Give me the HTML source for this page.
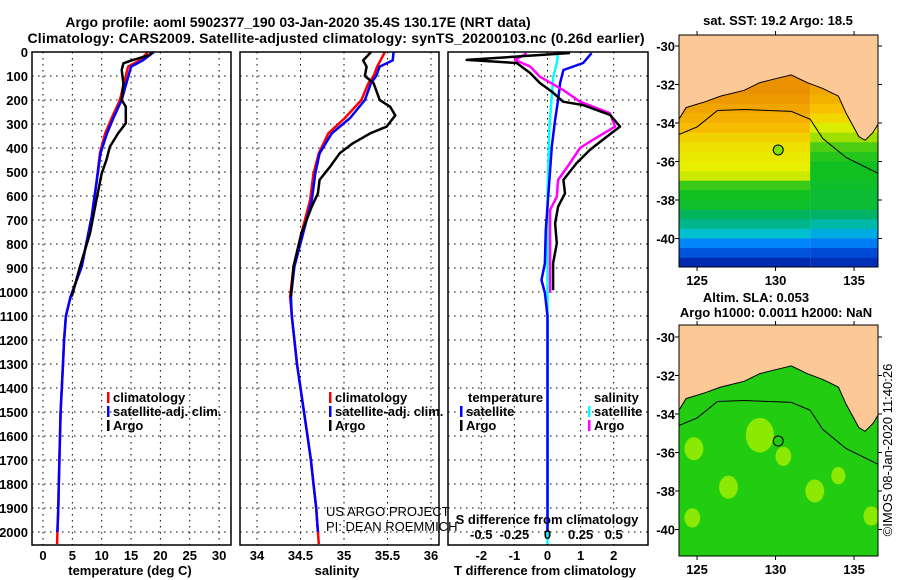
<!DOCTYPE html>
<html><head><meta charset="utf-8"><style>
html,body{margin:0;padding:0;background:#fff;}
svg{display:block;font-family:"Liberation Sans",sans-serif;}
.b{font-weight:bold;font-size:13px;fill:#000;}
.t{font-weight:bold;font-size:14px;fill:#000;}
</style></head><body>
<svg id="fig" width="900" height="580" viewBox="0 0 900 580" xmlns="http://www.w3.org/2000/svg">
<text class="t" x="298" y="27" text-anchor="middle">Argo profile: aoml 5902377_190 03-Jan-2020 35.4S 130.17E (NRT data)</text>
<text class="t" x="336" y="43" text-anchor="middle" textLength="617">Climatology: CARS2009. Satellite-adjusted climatology: synTS_20200103.nc (0.26d earlier)</text>
<g id="p1"></g>
<g id="p2"></g>
<g id="p3"></g>
<g id="m1"></g>
<g id="m2"></g>
<text class="b" x="778" y="25" text-anchor="middle">sat. SST: 19.2 Argo: 18.5</text>
<text class="b" x="756" y="302" text-anchor="middle">Altim. SLA: 0.053</text>
<text class="b" x="776" y="317" text-anchor="middle">Argo h1000: 0.0011 h2000: NaN</text>
<text x="892" y="450" font-size="13" text-anchor="middle" transform="rotate(-90 892 450)">©IMOS 08-Jan-2020 11:40:26</text>
<text x="326" y="516" font-size="13">US ARGO PROJECT</text>
<text x="326" y="531" font-size="13">PI: DEAN ROEMMICH</text>
</svg>
<script>
// ---- data ----
const depthTicks=[0,100,200,300,400,500,600,700,800,900,1000,1100,1200,1300,1400,1500,1600,1700,1800,1900,2000];
const tempTicks=[0,5,10,15,20,25,30];
const salTicks=[34,34.5,35,35.5,36];
const salTickLabels=["34","34.5","35","35.5","36"];
const dTTicks=[-2,-1,0,1,2];
const dSTicks=[-0.5,-0.25,0,0.25,0.5];
const dSTickLabels=["-0.5","-0.25","0","0.25","0.5"];

const tempArgoDepths=[0,12,35,47,75,130,200,228,297,339,394,450,506,617,756,894,1019];
const tempArgo=[18.5,18.2,15.1,13.7,13.4,13.7,13.4,14.1,14.1,12.8,11.4,10.8,10.0,9.1,8.0,6.3,4.9];
const climDepths=[0,35,61,130,200,275,339,422,547,686,894,1019,1100,1200,1300,1400,1500,1600,1700,1800,1900,2000,2050];
const tempClim=[17.9,16.5,14.5,13.8,13.1,11.7,10.6,9.7,9.1,8.3,6.6,4.7,3.9,3.6,3.4,3.2,3.0,2.9,2.8,2.7,2.6,2.45,2.4];
const satDepths=[0,35,61,130,200,275,339,422,547,686,894,1019,1100,1200,1300,1400,1500,1600,1700,1800,1900,2000];
const tempSat=[18.9,17.0,15.0,14.2,13.4,12.0,10.9,9.8,9.1,8.3,6.6,4.7,3.9,3.6,3.4,3.2,3.0,2.9,2.8,2.7,2.6,2.45];

const salArgoDepths=[0,20,35,61,100,130,200,228,264,311,339,381,422,478,533,589,644,756,894,1019];
const salArgo=[35.31,35.26,35.22,35.26,35.24,35.34,35.41,35.53,35.59,35.49,35.30,35.10,34.95,34.84,34.72,34.70,34.63,34.51,34.42,34.39];
const salClimDepths=[0,35,61,100,130,200,275,339,422,506,617,756,894,1019,1100,1200,1300,1400,1500,1600,1700,1800,1900,2000,2050];
const salClim=[35.47,35.42,35.38,35.34,35.28,35.20,35.01,34.82,34.71,34.65,34.61,34.51,34.42,34.38,34.40,34.43,34.46,34.50,34.54,34.58,34.62,34.65,34.68,34.70,34.71];
const salSatDepths=[0,35,61,100,130,200,275,339,422,506,617,756,894,1019,1100,1200,1300,1400,1500,1600,1700,1800,1900,2000];
const salSat=[35.57,35.56,35.41,35.37,35.31,35.24,35.07,34.86,34.72,34.67,34.63,34.53,34.43,34.39,34.40,34.43,34.46,34.50,34.54,34.58,34.62,34.65,34.68,34.70];

const dTArgoDepths=[4,33,46,87,129,165,207,221,262,311,353,408,463,533,589,644,714,797,880,992];
const dTArgo=[0.68,-2.44,-0.93,-0.53,-0.23,0.13,0.47,1.07,1.89,2.19,1.79,1.28,0.88,0.48,0.53,0.32,0.23,0.28,0.17,0.17];
const dSArgoDepths=[6,33,61,103,158,207,255,311,367,400,463,533,603,658,742,880,1004];
const dSArgo=[-0.157,-0.245,-0.13,-0.057,0.117,0.245,0.47,0.51,0.34,0.245,0.17,0.08,0.07,0.02,0.02,0.02,0.02];
const dTSatDepths=[5,46,75,129,200,283,394,603,742,880,950,1004,1100,1500,2000];
const dTSat=[1.33,1.08,0.48,0.38,0.32,0.23,0.13,0.02,-0.05,-0.08,-0.18,-0.08,0,0,0];
const dSSatDepths=[5,46,103,200,311,603,1000,2050];
const dSSat=[0.08,0.07,0.044,0.03,0.014,0,0,0];

// map data
const mapLonTicks=[125,130,135];
const mapLatTicks=[-30,-32,-34,-36,-38,-40];
const sstRowLats=[-31.5,-32,-32.5,-33,-33.5,-34,-34.5,-35,-35.5,-36,-36.5,-37,-37.5,-38,-38.5,-39,-39.5,-40,-40.5,-41];
const sstRowWest=[20.6,20.6,20.5,20.3,20.1,19.9,19.6,19.4,19.3,19.2,19.0,18.2,18.0,17.9,17.4,17.0,16.5,15.7,15.2,14.6];
const sstRowEast=[20.4,20.3,20.1,19.8,19.5,19.1,18.7,18.3,18.1,18.0,18.0,17.9,17.8,17.8,17.3,16.8,16.2,15.6,15.1,14.7];
const coastLon=[123.85,124.3,125.5,126.5,128,129,130,131,132,133,134,134.5,135.3,135.7,136.2,136.5];
const coastLat=[-33.8,-33.2,-32.9,-32.6,-32.3,-31.9,-31.7,-31.5,-31.9,-32.2,-32.6,-33.5,-34.7,-34.9,-34.5,-34.1];
const isoLon=[123.85,125,126.3,128,131,132.2,133,134.5,136.5];
const isoLat=[-34.6,-34.2,-33.35,-33.3,-33.4,-33.8,-34.8,-35.8,-36.6];
const argoLon=130.17, argoLat=-35.4;
const slaPatchLon=[129.0,124.8,127.0,134.0,132.5,124.7,136.1,130.5];
const slaPatchLat=[-35.1,-35.8,-37.8,-37.2,-38.0,-39.4,-39.3,-36.2];
const slaPatchR=[0.9,0.6,0.6,0.45,0.6,0.5,0.5,0.5];

// ---- helpers ----
const NS="http://www.w3.org/2000/svg";
function mk(parent,tag,attrs){const e=document.createElementNS(NS,tag);for(const k in attrs)e.setAttribute(k,attrs[k]);parent.appendChild(e);return e;}
const top0=52,bot0=545;
const yD=d=>top0+d*0.24;
function frame(g,x0,x1,y0,y1){
  const r=mk(g,'rect',{x:x0,y:y0,width:x1-x0,height:y1-y0,fill:'none',stroke:'#000','stroke-width':1.5});
  
  
}
function hgrid(g,x0,x1){
  depthTicks.forEach(d=>{const l=mk(g,'line',{x1:x0,x2:x1,y1:yD(d),y2:yD(d),stroke:'#000','stroke-width':1,'stroke-dasharray':'1.5,4.5'});
  
  });
}
function vgrid(g,xs){
  xs.forEach(x=>{const l=mk(g,'line',{x1:x,x2:x,y1:top0,y2:bot0,stroke:'#000','stroke-width':1,'stroke-dasharray':'1.5,4.5'});
  
  });
}
function line(g,xs,ds,xf,col,w,name){
  const pts=xs.map((v,i)=>xf(v).toFixed(1)+','+yD(ds[i]).toFixed(1)).join(' ');
  const p=mk(g,'polyline',{points:pts,fill:'none',stroke:col,'stroke-width':w,'stroke-linejoin':'round'});
  
  
}
function txt(g,x,y,s,cls,anchor){const t=mk(g,'text',{x:x,y:y,class:cls,'text-anchor':anchor||'middle'});t.textContent=s;return t;}
function legendRow(g,x,y,col,label,name){
  const m=mk(g,'rect',{x:x,y:y-10,width:2.5,height:11,fill:col});
  
  
  const t=txt(g,x+6,y,label,'b','start');
  
  
}

// ---- panel 1: temperature ----
(function(){
  const g=document.getElementById('p1');
  const xT=v=>43+v*5.87;
  hgrid(g,32,231); vgrid(g,tempTicks.map(xT));
  line(g,tempClim,climDepths,xT,'#f00',2.5,'temp-climatology-line');
  line(g,tempSat,satDepths,xT,'#00f',2.5,'temp-satellite-line');
  line(g,tempArgo,tempArgoDepths,xT,'#000',2.5,'temp-argo-line');
  frame(g,32,231,top0,bot0);
  depthTicks.forEach(d=>{const t=txt(g,28,yD(d)+5,String(d),'b','end');
    
    });
  tempTicks.forEach(v=>{const t=txt(g,xT(v),560,String(v),'b');
    
    });
  const a=txt(g,130,575,'temperature (deg C)','b');
  
  
  legendRow(g,107,402,'#f00','climatology','legend-climatology');
  legendRow(g,107,416,'#00f','satellite-adj. clim.','legend-satellite');
  legendRow(g,107,430,'#000','Argo','legend-argo');
})();

// ---- panel 2: salinity ----
(function(){
  const g=document.getElementById('p2');
  const xS=v=>257+(v-34)*87;
  hgrid(g,240,439); vgrid(g,salTicks.map(xS));
  line(g,salClim,salClimDepths,xS,'#f00',2.5,'sal-climatology-line');
  line(g,salSat,salSatDepths,xS,'#00f',2.5,'sal-satellite-line');
  line(g,salArgo,salArgoDepths,xS,'#000',2.5,'sal-argo-line');
  frame(g,240,439,top0,bot0);
  salTicks.forEach((v,i)=>{const t=txt(g,xS(v),560,salTickLabels[i],'b');
    
    });
  const a=txt(g,337,575,'salinity','b');
  
  
  legendRow(g,329,402,'#f00','climatology','legend-sal-climatology');
  legendRow(g,329,416,'#00f','satellite-adj. clim.','legend-sal-satellite');
  legendRow(g,329,430,'#000','Argo','legend-sal-argo');
})();

// ---- panel 3: differences ----
(function(){
  const g=document.getElementById('p3');
  const xDT=v=>547.5+v*33.1;
  const xDS=v=>547.5+v*132.5;
  hgrid(g,448,648); vgrid(g,dTTicks.map(xDT));
  line(g,dSSat,dSSatDepths,xDS,'#00ffff',2.5,'sal-diff-satellite-line');
  line(g,dTSat,dTSatDepths,xDT,'#00f',2.5,'temp-diff-satellite-line');
  line(g,dSArgo,dSArgoDepths,xDS,'#ff00ff',2.5,'sal-diff-argo-line');
  line(g,dTArgo,dTArgoDepths,xDT,'#000',2.5,'temp-diff-argo-line');
  frame(g,448,648,top0,bot0);
  dTTicks.forEach(v=>{const t=txt(g,xDT(v),560,String(v),'b');
    
    });
  dSTicks.forEach((v,i)=>{const t=txt(g,xDS(v),539,dSTickLabels[i],'b');
    
    });
  const s=txt(g,547,524,'S difference from climatology','b');
  
  
  const a=txt(g,545,575,'T difference from climatology','b');
  
  
  const h1=txt(g,468,402,'temperature','b','start');
  
  
  const h2=txt(g,594,402,'salinity','b','start');
  
  
  legendRow(g,460,416,'#00f','satellite','legend-t-satellite');
  legendRow(g,460,430,'#000','Argo','legend-t-argo');
  legendRow(g,588,416,'#00ffff','satellite','legend-s-satellite');
  legendRow(g,588,430,'#ff00ff','Argo','legend-s-argo');
})();

// ---- maps ----
const cstops=[[14,[0,10,128]],[15,[0,64,208]],[15.8,[0,144,255]],[16.5,[0,192,208]],[17.2,[0,176,112]],[18,[16,192,32]],[18.7,[160,224,0]],[19.2,[232,240,0]],[19.8,[248,192,0]],[20.4,[240,160,0]],[21,[224,112,0]]];
function cmap(v){
  if(v<=cstops[0][0])return 'rgb('+cstops[0][1]+')';
  for(let i=1;i<cstops.length;i++){if(v<=cstops[i][0]){const a=cstops[i-1],b=cstops[i],f=(v-a[0])/(b[0]-a[0]);
    return 'rgb('+a[1].map((c,j)=>Math.round(c+(b[1][j]-c)*f)).join(',')+')';}}
  return 'rgb('+cstops[cstops.length-1][1]+')';
}
function drawMap(id,y0,y1,lat30y,kind){
  const g=document.getElementById(id);
  const x0=679,x1=878;
  const xL=lon=>x0+(lon-123.85)*15.7;
  const yL=lat=>lat30y+(-30-lat)*19.25;
  const cid='clip'+id;
  const cp=mk(g,'clipPath',{id:cid});mk(cp,'rect',{x:x0,y:y0,width:x1-x0,height:y1-y0});
  const inner=mk(g,'g',{'clip-path':'url(#'+cid+')'});
  if(kind==='sst'){
    sstRowLats.forEach((lat,i)=>{
      const ty=i===0?y0:yL(lat);
      const by=i===sstRowLats.length-1?y1:yL(lat-0.5);
      const xm=xL(132.2);
      const r=mk(inner,'rect',{x:x0,y:ty,width:xm-x0,height:by-ty+0.5,fill:cmap(sstRowWest[i])});
      
      
      const r2=mk(inner,'rect',{x:xm,y:ty,width:x1-xm,height:by-ty+0.5,fill:cmap(sstRowEast[i])});
      
      
    });
  } else {
    const bg=mk(inner,'rect',{x:x0,y:y0,width:x1-x0,height:y1-y0,fill:'#22cc11'});
    
    
    slaPatchLon.forEach((lon,i)=>{
      const e=mk(inner,'ellipse',{cx:xL(lon),cy:yL(slaPatchLat[i]),rx:slaPatchR[i]*15.7,ry:slaPatchR[i]*19.25,fill:'#a8f000',opacity:0.8});
      
      
    });
  }
  let d='M'+x0+','+y0+' L'+x0+','+yL(coastLat[0]);
  coastLon.forEach((lon,i)=>{d+=' L'+xL(lon).toFixed(1)+','+yL(coastLat[i]).toFixed(1);});
  d+=' L'+x1+','+yL(-34.1).toFixed(1)+' L'+x1+','+y0+' Z';
  const land=mk(inner,'path',{d:d,fill:'#fcc896',stroke:'#000','stroke-width':1});
  
  
  const iso=mk(inner,'polyline',{points:isoLon.map((lon,i)=>xL(lon).toFixed(1)+','+yL(isoLat[i]).toFixed(1)).join(' '),fill:'none',stroke:'#000','stroke-width':1});
  
  
  const c=mk(g,'circle',{cx:xL(argoLon),cy:yL(argoLat),r:5,fill:kind==='sst'?'#80e000':'none',stroke:'#000','stroke-width':1});
  
  
  const f=mk(g,'rect',{x:x0,y:y0,width:x1-x0,height:y1-y0,fill:'none',stroke:'#000','stroke-width':1});
  
  
  mapLatTicks.forEach(lat=>{
    mk(g,'line',{x1:x0-4,x2:x0,y1:yL(lat),y2:yL(lat),stroke:'#000'});
    mk(g,'line',{x1:x1,x2:x1+4,y1:yL(lat),y2:yL(lat),stroke:'#000'});
    const t=txt(g,675,yL(lat)+5,String(lat),'b','end');
    
    
  });
  mapLonTicks.forEach(lon=>{
    mk(g,'line',{x1:xL(lon),x2:xL(lon),y1:y0-4,y2:y0,stroke:'#000'});
    mk(g,'line',{x1:xL(lon),x2:xL(lon),y1:y1,y2:y1+4,stroke:'#000'});
    const t=txt(g,xL(lon),y1+18,String(lon),'b');
    
    
  });
}
drawMap('m1',35,267,46,'sst');
drawMap('m2',325,556,337,'sla');
</script>
</body></html>
